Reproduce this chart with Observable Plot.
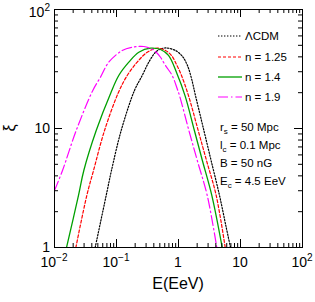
<!DOCTYPE html>
<html><head><meta charset="utf-8">
<script src="https://cdn.jsdelivr.net/npm/d3@7"></script>
<script src="https://cdn.jsdelivr.net/npm/@observablehq/plot@0.6"></script>
<style>body{margin:0;background:#fff} svg{font-family:"Liberation Sans",Arial,sans-serif}</style>
</head><body><div id="chart"></div>
<script>
const seriesNames = ["ΛCDM", "n = 1.25", "n = 1.4", "n = 1.9"];
const lcdmE  = [0.0453,0.0682,0.083,0.119,0.195,0.26,0.332,0.426,0.512,0.64,0.895,1.16,1.396,1.621,1.88,2.455,3.357,4.585,5.797,6.902];
const lcdmXi = [1,2.74,4.44,9.62,20.9,27.9,36.1,43.7,46.6,47.5,45.2,40.3,33.8,26.3,18.9,10.6,5.38,2.74,1.53,1];
const n125E  = [0.0221,0.0332,0.0426,0.0641,0.1076,0.1489,0.2157,0.3126,0.458,0.617,0.771,0.929,1.117,1.449,2.078,2.829,4.055,5.666];
const n125Xi = [1,2.74,4.44,9.62,20.1,27.9,36.1,43.7,47.3,45.2,41.1,34.5,27.9,18.9,9.62,5.38,2.74,1];
const n14E   = [0.01563,0.02438,0.02971,0.04707,0.0815,0.1088,0.1579,0.2289,0.3535,0.5124,0.69,0.929,1.274,1.804,2.427,3.445,5.069];
const n14Xi  = [1,2.74,4.44,9.62,20.1,27.9,36.1,43.7,47.3,46.1,41.1,29.6,18.9,9.62,5.38,2.74,1];
const n19E   = [0.01,0.01346,0.02239,0.0415,0.0552,0.0751,0.1235,0.1791,0.2756,0.3667,0.4416,0.5124,0.617,0.791,0.953,1.038,1.472,2.01,2.904,4.148];
const n19Xi  = [3.01,4.44,9.62,20.9,27.0,36.1,45.2,48.2,48.9,46.6,43.5,39.7,33.8,27.9,21.6,18.9,9.62,5.38,2.74,1];

const xTickValues = [0.01, 0.1, 1, 10, 100];
const xTickLabels = [["10","−2"], ["10","−1"], ["1",""], ["10",""], ["10","2"]];
const yTickValues = [1, 10, 100];
const yTickLabels = [["1",""], ["10",""], ["10","2"]];
const paramLines = [["r","s"," = 50 Mpc"], ["l","c"," = 0.1 Mpc"], ["B",""," = 50 nG"], ["E","c"," = 4.5 EeV"]];

const styles = [
  {stroke:"#000000", dash:"1.4,1.6", w:1.2},
  {stroke:"#ff0000", dash:"3,2", w:1.2},
  {stroke:"#00a000", dash:null, w:1.3},
  {stroke:"#ff00ff", dash:"10,3,1.5,3", w:1.2}
];
const seriesE = [lcdmE, n125E, n14E, n19E];
const seriesXi = [lcdmXi, n125Xi, n14Xi, n19Xi];
const rows = seriesNames.flatMap((s,i) => seriesE[i].map((e,j) => ({series:s, E:e, xi:seriesXi[i][j]})));

const W = 315, H = 302, mL = 54, mR = 13, mT = 9, mB = 55;
const pH = H - mT - mB, pW = W - mL - mR;
const decades = [0.01, 0.1, 1, 10];
const xMinor = decades.flatMap(d => [2,3,4,5,6,7,8,9].map(k => k*d));
const yMinor = [1, 10].flatMap(d => [2,3,4,5,6,7,8,9].map(k => k*d));
const MAJ = 8, MIN = 4;

const marks = [
  ...seriesNames.map((s,i) => Plot.line(rows.filter(r => r.series === s), {
    x:"E", y:"xi", stroke: styles[i].stroke, strokeWidth: styles[i].w,
    strokeDasharray: styles[i].dash, curve:"catmull-rom", clip:true
  })),
  Plot.ruleX(xTickValues, {insetTop: pH - MAJ, stroke:"#000"}),
  Plot.ruleX(xTickValues, {insetBottom: pH - MAJ, stroke:"#000"}),
  Plot.ruleX(xMinor, {insetTop: pH - MIN, stroke:"#000"}),
  Plot.ruleX(xMinor, {insetBottom: pH - MIN, stroke:"#000"}),
  Plot.ruleY(yTickValues, {insetRight: pW - MAJ, stroke:"#000"}),
  Plot.ruleY(yTickValues, {insetLeft: pW - MAJ, stroke:"#000"}),
  Plot.ruleY(yMinor, {insetRight: pW - MIN, stroke:"#000"}),
  Plot.ruleY(yMinor, {insetLeft: pW - MIN, stroke:"#000"}),
  Plot.frame({stroke:"#000", strokeWidth:1})
];

const chart = Plot.plot({
  width: W, height: H, marginLeft: mL, marginRight: mR, marginTop: mT, marginBottom: mB,
  x: {type:"log", domain:[0.01,100], axis:null},
  y: {type:"log", domain:[1,100], axis:null},
  style: {background:"#fff", fontFamily:'"Liberation Sans",Arial,sans-serif'},
  marks
});
document.getElementById("chart").append(chart);

const sx = chart.scale("x"), sy = chart.scale("y");
const svg = d3.select(chart);
const g = svg.append("g").attr("fill","#000").attr("text-anchor","start");

function supText(sel, base, sup, fs) {
  sel.append("tspan").text(base);
  if (sup) sel.append("tspan").attr("font-size", fs*0.72).attr("dy", -fs*0.45).text(sup);
}
xTickValues.forEach((v,i) => {
  const t = g.append("text").attr("x", sx.apply(v)).attr("y", 267).attr("text-anchor","middle").attr("font-size",14);
  supText(t, xTickLabels[i][0], xTickLabels[i][1], 14);
});
yTickValues.forEach((v,i) => {
  const t = g.append("text").attr("x", 50).attr("y", sy.apply(v) + (v===100 ? 3 : 0) + 5).attr("text-anchor","end").attr("font-size",14);
  supText(t, yTickLabels[i][0], yTickLabels[i][1], 14);
});
g.append("text").attr("x", 178).attr("y", 289).attr("text-anchor","middle").attr("font-size",16).text("E(EeV)");
g.append("text").attr("transform","translate(15,128) rotate(-90)").attr("text-anchor","middle").attr("font-size",16).text("ξ");

// legend
const legY = [36, 57, 77, 97];
seriesNames.forEach((s,i) => {
  g.append("line").attr("x1",218).attr("x2",242).attr("y1",legY[i]).attr("y2",legY[i])
    .attr("stroke",styles[i].stroke).attr("stroke-width",styles[i].w)
    .attr("stroke-dasharray",styles[i].dash);
  g.append("text").attr("x",245).attr("y",legY[i]+4).attr("text-anchor","start").attr("font-size",11.5).text(s);
});
const parY = [127, 145, 163, 181];
paramLines.forEach((p,i) => {
  const t = g.append("text").attr("x",220).attr("y",parY[i]+4).attr("text-anchor","start").attr("font-size",11.5);
  t.append("tspan").text(p[0]);
  if (p[1]) t.append("tspan").attr("font-size",8).attr("dy",3).text(p[1]);
  t.append("tspan").attr("dy", p[1] ? -3 : 0).text(p[2]);
});
</script></body></html>
